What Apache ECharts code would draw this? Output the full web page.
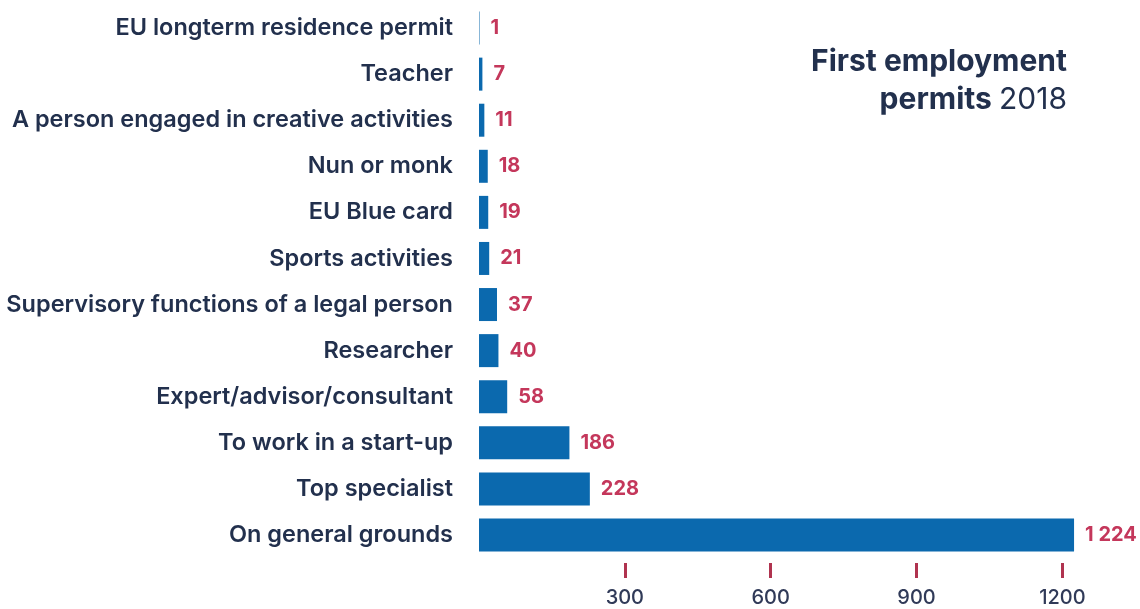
<!DOCTYPE html>
<html>
<head>
<meta charset="utf-8">
<style>
  html, body { margin: 0; padding: 0; background: #ffffff; }
  #chart { width: 1140px; height: 609px; }
</style>
<script src="https://cdn.jsdelivr.net/npm/echarts@6/dist/echarts.min.js"></script>
</head>
<body>
<div id="chart"></div>
<script>
// Permit types, listed top to bottom
const categories = [
  'EU longterm residence permit',
  'Teacher',
  'A person engaged in creative activities',
  'Nun or monk',
  'EU Blue card',
  'Sports activities',
  'Supervisory functions of a legal person',
  'Researcher',
  'Expert/advisor/consultant',
  'To work in a start-up',
  'Top specialist',
  'On general grounds'
];

// Number of first employment permits issued in 2018
const permits = [1, 7, 11, 18, 19, 21, 37, 40, 58, 186, 228, 1224];

// Values marked along the horizontal axis
const tickValues = [300, 600, 900, 1200];

const NAVY = '#22304d';
const CRIMSON = '#c4375b';
const TICK = '#b0334f';
const BLUE = '#0b69ae';
const FONT = 'Inter, "Noto Sans", sans-serif';

// thousands separated by a space, e.g. 1 224
function fmt(v) {
  return String(v).replace(/\B(?=(\d{3})+(?!\d))/g, ' ');
}

const chart = echarts.init(document.getElementById('chart'), null, { renderer: 'canvas' });

chart.setOption({
  backgroundColor: '#ffffff',
  animation: false,
  title: {
    text: '{b|First employment}\n{b|permits }{r|2018}',
    right: 68,
    top: 38,
    textStyle: {
      rich: {
        b: { fontFamily: FONT, fontSize: 30, fontWeight: 700, color: NAVY, lineHeight: 38, align: 'right' },
        r: { fontFamily: FONT, fontSize: 30, fontWeight: 400, color: NAVY, lineHeight: 38, align: 'right' }
      }
    }
  },
  grid: {
    left: 479,
    right: 29,
    top: 5,
    bottom: 51,
    containLabel: false
  },
  xAxis: {
    type: 'value',
    min: 0,
    max: 1300,
    interval: 100,
    offset: 5,
    axisLine: { show: false },
    splitLine: { show: false },
    axisTick: {
      show: true,
      customValues: tickValues,
      length: 15,
      lineStyle: { color: TICK, width: 3 }
    },
    axisLabel: {
      customValues: tickValues,
      margin: 25,
      color: '#303a58',
      fontFamily: FONT,
      fontSize: 20,
      fontWeight: 500,
      formatter: v => String(v)
    }
  },
  yAxis: {
    type: 'category',
    inverse: true,
    data: categories,
    axisLine: { show: false },
    axisTick: { show: false },
    axisLabel: {
      margin: 26,
      color: NAVY,
      fontFamily: FONT,
      fontSize: 23.5,
      fontWeight: 600
    }
  },
  series: [{
    type: 'bar',
    data: permits,
    barWidth: 33,
    itemStyle: { color: BLUE },
    label: {
      show: true,
      position: 'right',
      distance: 11,
      color: CRIMSON,
      fontFamily: FONT,
      fontSize: 20,
      fontWeight: 700,
      formatter: p => fmt(p.value)
    }
  }]
});
</script>
</body>
</html>
